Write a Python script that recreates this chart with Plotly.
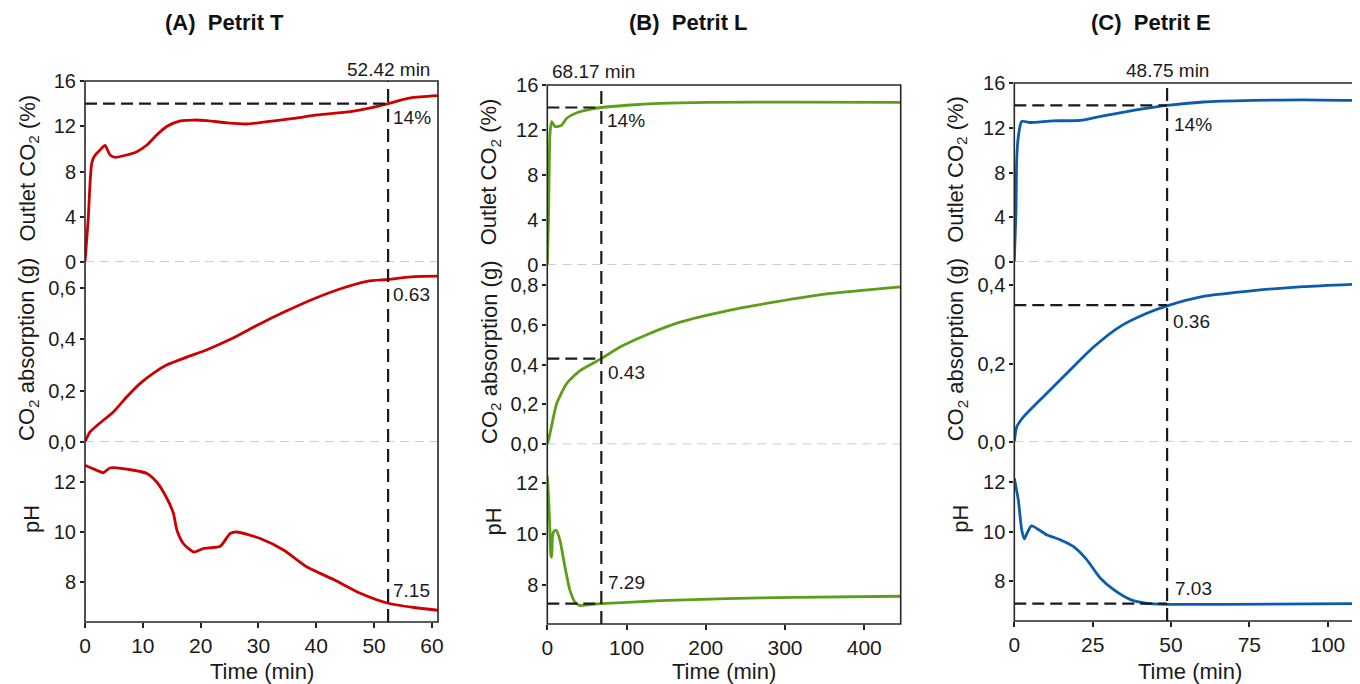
import plotly.graph_objects as go

# The page body has an 8px margin, so the figure is sized to fill the rest of the window
OFF = 8
FW, FH = 1360 - OFF, 684 - OFF

# ---------------- data ----------------
# Panel A - Petrit T
A_out_t = [0, 0.3, 0.58, 0.87, 1.16, 1.56, 2.6, 3.47, 4.33, 5.2, 7.2, 8.96, 10.7, 12.4, 14.2, 16.5, 18.8,
           21.1, 24.6, 28.0, 31.5, 36.1, 40.2, 45.9, 50.0, 52.42, 56.3, 61]
A_out_v = [0, 2.0, 4.0, 6.96, 8.7, 9.3, 9.9, 10.3, 9.46, 9.25, 9.46, 9.75, 10.34, 11.23, 12.0, 12.47, 12.55,
           12.5, 12.3, 12.2, 12.4, 12.7, 13.0, 13.3, 13.7, 14.0, 14.5, 14.7]
A_abs_t = [0, 0.87, 2.6, 4.9, 7.2, 9.5, 12.1, 14.2, 17.6, 21.1, 25.7, 30.3, 35.0, 39.6, 44.2, 48.8, 52.42,
           56.9, 61]
A_abs_v = [0, 0.039, 0.074, 0.117, 0.175, 0.227, 0.272, 0.30, 0.33, 0.359, 0.405, 0.46, 0.511, 0.557,
           0.596, 0.625, 0.632, 0.643, 0.645]
A_ph_t = [0, 2.0, 3.2, 4.3, 8.4, 10.7, 12.4, 14.2, 15.3, 15.9, 17.0, 18.8, 20.5, 23.4, 25.1, 26.3, 30.3,
          34.4, 38.4, 43.0, 47.7, 52.42, 56.9, 61]
A_ph_v = [12.67, 12.47, 12.37, 12.56, 12.47, 12.34, 12.0, 11.33, 10.74, 10.07, 9.54, 9.2, 9.34, 9.43, 9.94,
          10.0, 9.74, 9.27, 8.6, 8.1, 7.54, 7.15, 6.98, 6.87]

# Panel B - Petrit L
B_out_t = [0, 1.5, 2.5, 3.4, 5.5, 9.7, 18.2, 24.5, 37.1, 53.9, 68.17, 100, 142, 205, 310, 446]
B_out_v = [0, 4.0, 9.0, 11.7, 12.74, 12.3, 12.44, 13.04, 13.54, 13.84, 14.0, 14.2, 14.37, 14.46, 14.48, 14.45]
B_abs_t = [0, 3.4, 11.9, 24.5, 41.3, 68.17, 91.8, 125.5, 167.6, 226.5, 289.6, 352.8, 446]
B_abs_v = [0, 0.055, 0.205, 0.305, 0.37, 0.43, 0.488, 0.55, 0.613, 0.67, 0.716, 0.755, 0.79]
B_ph_t = [0, 1.5, 3.0, 4.5, 5.5, 6.5, 8.0, 11.0, 16.0, 22.3, 28.7, 35.0, 41.3, 53.9, 68.17, 142.3, 226.5,
          310.6, 446]
B_ph_v = [12.25, 11.5, 10.4, 9.2, 9.1, 9.9, 10.1, 10.16, 9.76, 8.72, 7.8, 7.35, 7.22, 7.26, 7.29, 7.41, 7.49,
          7.54, 7.58]

# Panel C - Petrit E
C_out_t = [0, 0.54, 0.76, 1.28, 2.35, 5.0, 12.4, 21.0, 28.4, 38.0, 48.75, 60.3, 76.3, 92.2, 111]
C_out_v = [0, 4.6, 9.1, 11.2, 12.56, 12.47, 12.62, 12.65, 13.07, 13.55, 14.0, 14.3, 14.44, 14.5, 14.44]
C_abs_t = [0, 0.76, 2.9, 10.3, 17.8, 25.2, 33.7, 42.3, 48.75, 60.3, 76.3, 92.2, 111]
C_abs_v = [0, 0.038, 0.064, 0.124, 0.184, 0.242, 0.295, 0.329, 0.348, 0.372, 0.387, 0.397, 0.404]
C_ph_t = [0, 1.28, 2.35, 3.2, 4.1, 5.5, 10.3, 14.6, 18.8, 23.1, 27.4, 31.6, 36.9, 42.3, 48.75, 65.6, 111]
C_ph_v = [12.14, 11.27, 10.07, 9.7, 9.94, 10.23, 9.87, 9.67, 9.4, 8.87, 8.13, 7.67, 7.27, 7.11, 7.07, 7.07, 7.1]

titles = ["(A)  Petrit T", "(B)  Petrit L", "(C)  Petrit E"]
break_time = [52.42, 68.17, 48.75]
break_time_text = ["52.42 min", "68.17 min", "48.75 min"]
break_out = [14, 14, 14]
break_abs = [0.63, 0.43, 0.35]
break_abs_text = ["0.63", "0.43", "0.36"]
break_ph = [7.15, 7.29, 7.1]
break_ph_text = ["7.15", "7.29", "7.03"]
x_ticks = [[0, 10, 20, 30, 40, 50, 60], [0, 100, 200, 300, 400], [0, 25, 50, 75, 100]]
out_ticks = [0, 4, 8, 12, 16]
abs_ticks = [[0, 0.2, 0.4, 0.6], [0, 0.2, 0.4, 0.6, 0.8], [0, 0.2, 0.4]]
ph_ticks = [8, 10, 12]

# ---------------- layout geometry (window pixels) ----------------
FONT = "Arial, 'Liberation Sans', sans-serif"
TXT = "#1a1a1a"
colors = ["#cc0000", "#5c9e17", "#0b5cad"]
x_px = [(85, 438), (547.3, 900.7), (1014.3, 1360)]
y_px = [(81, 262, 442, 622), (85, 265, 444.3, 624), (83, 262, 442, 621)]
x_ranges = [[0, 61.05], [0, 446], [0, 110.3]]
y_ranges = [[[0, 16], [0, 0.7], [6.4, 13.6]],
            [[0, 16], [0, 0.9], [6.5, 13.5]],
            [[0, 16], [0, 0.46], [6.4, 13.6]]]
series = [[(A_out_t, A_out_v), (A_abs_t, A_abs_v), (A_ph_t, A_ph_v)],
          [(B_out_t, B_out_v), (B_abs_t, B_abs_v), (B_ph_t, B_ph_v)],
          [(C_out_t, C_out_v), (C_abs_t, C_abs_v), (C_ph_t, C_ph_v)]]
title_cx = [225, 688.5, 1151]
draw_hlines = [[False, False, False], [True, True, True], [True, True, True]]
lbl_shift = [[(3, -14), (3, -14), (3, 13)],
             [(4, -13), (5, -14), (5, 21)],
             [(5, -19), (4, -16), (6, 15)]]
min_shift = [(0, 11), (-8, 13), (0, 12)]
TICK_SIZE, TITLE_SIZE, NOTE_SIZE, HEAD_SIZE = 20, 22, 19, 22


def px_x(p):
    return (p - OFF) / FW


def px_y(p):
    return 1 - (p - OFF) / FH


def comma(v):
    return f"{v:.1f}".replace(".", ",")


fig = go.Figure()
layout = dict(width=FW, height=FH, margin=dict(l=0, r=0, t=0, b=0, pad=0, autoexpand=False),
              showlegend=False, plot_bgcolor="white", paper_bgcolor="white",
              font=dict(family=FONT, size=19, color=TXT))
shapes = []
annotations = []

for p in range(3):
    xd = [px_x(x_px[p][0]), min(1.0, px_x(x_px[p][1]))]
    yp = y_px[p]
    for r in range(3):
        idx = p * 3 + r + 1
        xn = "xaxis" if idx == 1 else f"xaxis{idx}"
        yn = "yaxis" if idx == 1 else f"yaxis{idx}"
        xr = "x" if idx == 1 else f"x{idx}"
        yr = "y" if idx == 1 else f"y{idx}"
        ydom = [px_y(yp[r + 1]), px_y(yp[r])]
        t, v = series[p][r]
        fig.add_trace(go.Scatter(x=t, y=v, mode="lines", xaxis=xr, yaxis=yr,
                                 line=dict(color=colors[p], width=2.8, shape="spline", smoothing=0.6),
                                 hoverinfo="skip"))
        xa = dict(domain=xd, range=x_ranges[p], anchor=yr, showgrid=False, zeroline=False, fixedrange=True,
                  automargin=False)
        if r < 2:
            xa.update(visible=False)
        else:
            xa.update(visible=True, showline=False, ticks="outside", ticklen=5, tickwidth=1.5,
                      tickcolor="#222", tickvals=x_ticks[p], ticktext=[str(k) for k in x_ticks[p]],
                      tickfont=dict(size=TICK_SIZE + 1, family=FONT, color=TXT))
        layout[xn] = xa
        if r == 0:
            tv, tt = out_ticks, [str(k) for k in out_ticks]
        elif r == 1:
            tv, tt = abs_ticks[p], [comma(k) for k in abs_ticks[p]]
        else:
            tv, tt = ph_ticks, [str(k) for k in ph_ticks]
        layout[yn] = dict(domain=ydom, range=y_ranges[p][r], anchor=xr, showgrid=False, zeroline=False,
                          showline=False, ticks="outside", ticklen=4, tickwidth=1.5, tickcolor="#222",
                          tickvals=tv, ticktext=tt, tickfont=dict(size=TICK_SIZE, family=FONT, color=TXT),
                          fixedrange=True, automargin=False)
        # grey dashed zero lines
        if r < 2:
            shapes.append(dict(type="line", xref=f"{xr} domain", yref=yr, x0=0, x1=1, y0=0, y1=0,
                               line=dict(color="#bdbdbd", width=1.6, dash="9px,6px"), layer="above"))
    # box
    shapes.append(dict(type="rect", xref="paper", yref="paper",
                       x0=px_x(x_px[p][0]), x1=px_x(x_px[p][1]) if p < 2 else 1.006,
                       y0=px_y(yp[3]), y1=px_y(yp[0]),
                       line=dict(color="#262626", width=1.6), fillcolor="rgba(0,0,0,0)", layer="above"))
    bx = f"x{p * 3 + 3}"
    # vertical break line
    shapes.append(dict(type="line", xref=bx, yref="paper", x0=break_time[p], x1=break_time[p],
                       y0=px_y(yp[3]), y1=px_y(yp[0]),
                       line=dict(color="#1a1a1a", width=2.2, dash="13px,7px"), layer="above"))
    vals = [break_out[p], break_abs[p], break_ph[p]]
    texts = [f"{break_out[p]}%", break_abs_text[p], break_ph_text[p]]
    for r in range(3):
        idx = p * 3 + r + 1
        xr = "x" if idx == 1 else f"x{idx}"
        yr = "y" if idx == 1 else f"y{idx}"
        if draw_hlines[p][r] or r == 0:
            shapes.append(dict(type="line", xref=xr, yref=yr, x0=0, x1=break_time[p], y0=vals[r], y1=vals[r],
                               line=dict(color="#1a1a1a", width=2.2, dash="12px,6px"), layer="above"))
        annotations.append(dict(x=break_time[p], y=vals[r], xref=xr, yref=yr, text=texts[r], showarrow=False,
                                xanchor="left", yanchor="middle", xshift=lbl_shift[p][r][0],
                                yshift=lbl_shift[p][r][1], font=dict(size=NOTE_SIZE, family=FONT, color=TXT)))
    # break time label above the box
    annotations.append(dict(x=break_time[p], y=px_y(yp[0]), xref=bx, yref="paper", text=break_time_text[p],
                            showarrow=False, xanchor="center", yanchor="middle",
                            xshift=min_shift[p][0], yshift=min_shift[p][1],
                            font=dict(size=NOTE_SIZE, family=FONT, color=TXT)))
    # panel title
    annotations.append(dict(x=px_x(title_cx[p]), y=px_y(23), xref="paper", yref="paper",
                            text=f"<b>{titles[p]}</b>", showarrow=False, xanchor="center", yanchor="middle",
                            font=dict(size=HEAD_SIZE, family=FONT, color="#111")))
    # axis titles
    lx = px_x(x_px[p][0] - 57)
    annotations.append(dict(x=lx, y=px_y((yp[0] + yp[1]) / 2 - 3), xref="paper", yref="paper",
                            text="Outlet CO<sub>2</sub> (%)", textangle=-90, showarrow=False,
                            xanchor="center", yanchor="middle",
                            font=dict(size=TITLE_SIZE, family=FONT, color=TXT)))
    annotations.append(dict(x=lx, y=px_y((yp[1] + yp[2]) / 2 - 2), xref="paper", yref="paper",
                            text="CO<sub>2</sub> absorption (g)", textangle=-90, showarrow=False,
                            xanchor="center", yanchor="middle",
                            font=dict(size=TITLE_SIZE, family=FONT, color=TXT)))
    annotations.append(dict(x=px_x(x_px[p][0] - 54), y=px_y((yp[2] + yp[3]) / 2 - 13), xref="paper",
                            yref="paper", text="pH", textangle=-90, showarrow=False,
                            xanchor="center", yanchor="middle",
                            font=dict(size=TITLE_SIZE, family=FONT, color=TXT)))
    annotations.append(dict(x=px_x((x_px[p][0] + min(x_px[p][1], 1367)) / 2 + (3 if p == 2 else 0)),
                            y=px_y(671), xref="paper", yref="paper", text="Time (min)", showarrow=False,
                            xanchor="center", yanchor="middle",
                            font=dict(size=TITLE_SIZE, family=FONT, color=TXT)))

layout["shapes"] = shapes
layout["annotations"] = annotations
fig.update_layout(**layout)
fig.write_html("out.html")
